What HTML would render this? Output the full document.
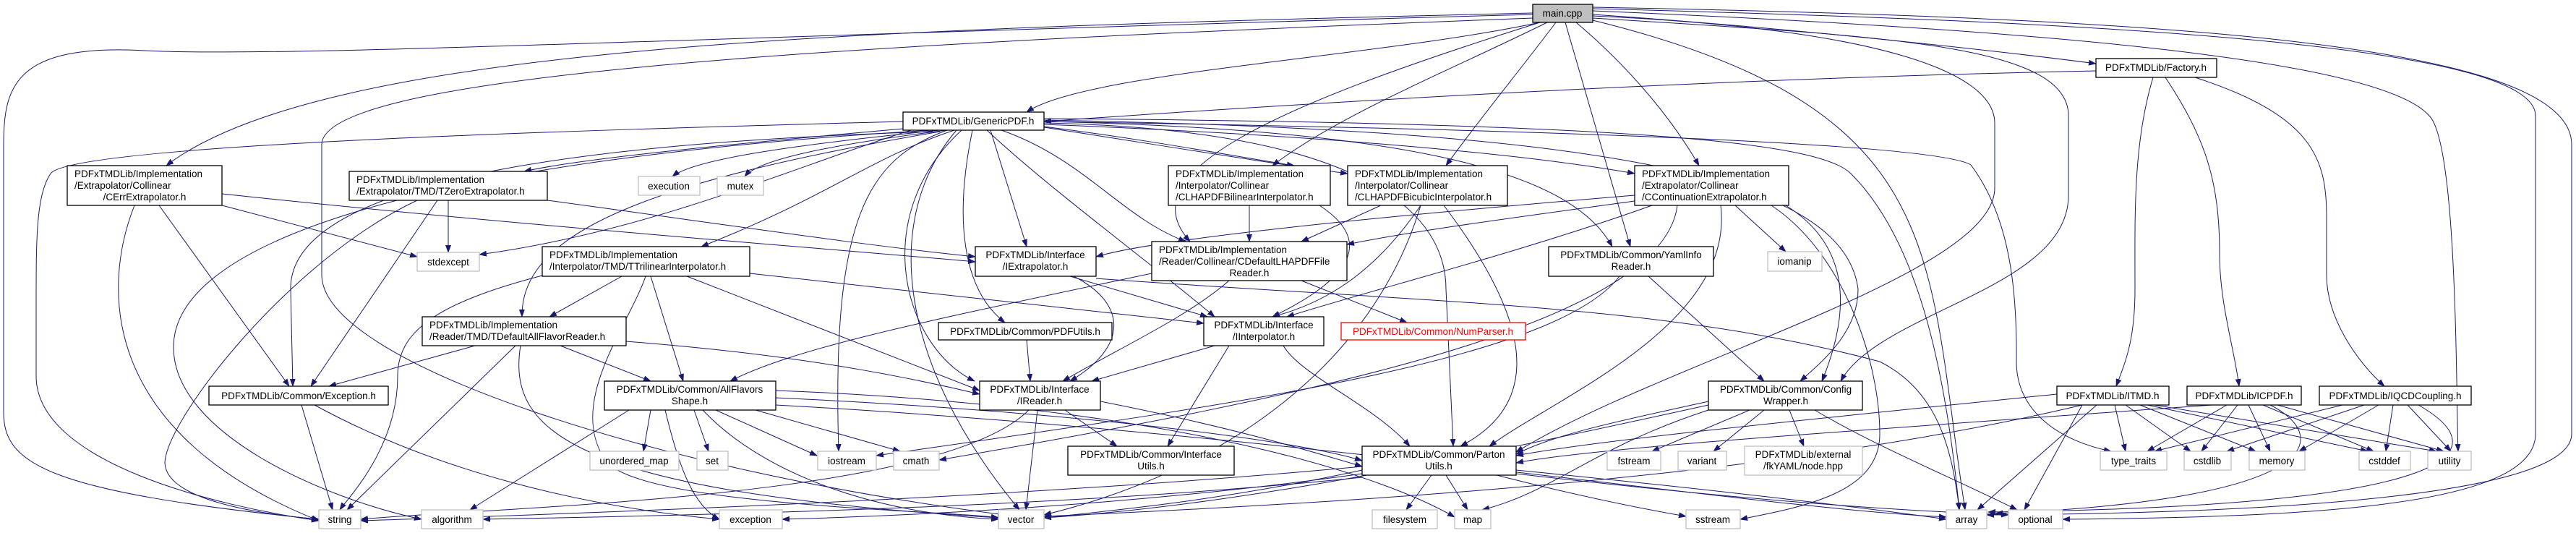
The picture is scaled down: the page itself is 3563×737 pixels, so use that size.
<!DOCTYPE html>
<html><head><meta charset="utf-8"><style>
html,body{margin:0;padding:0;background:#fff;}
svg{display:block;}
text{font-family:"Liberation Sans","DejaVu Sans",sans-serif;font-size:13.5px;fill:#000;}
.n{fill:#fff;stroke:#000;stroke-width:1.3;}
.g{fill:#fff;stroke:#bfbfbf;stroke-width:1.3;}
.e{fill:none;stroke:#191970;stroke-width:1;}
</style></head><body>
<svg width="3563" height="737" viewBox="0 0 3563 737" xmlns="http://www.w3.org/2000/svg">
<defs><marker id="a" markerWidth="11" markerHeight="8" refX="10" refY="4" orient="auto" markerUnits="userSpaceOnUse"><path d="M0,0 L11,4 L0,8 z" fill="#191970"/></marker></defs>
<g class="e" marker-end="url(#a)">
<!-- main -->
<path d="M2130,31 C1900,80 1500,100 1420,155"/>
<path d="M2203,20 C2500,40 2800,75 2899,88"/>
<path d="M2120,18 C1200,40 450,60 230,229"/>
<path d="M2120,20 C1000,50 400,80 200,70 C20,60 5,120 5,200 L5,570 C5,640 60,680 441,718"/>
<path d="M2120,25 C1200,60 445,100 445,200 L445,380 C445,500 900,650 1390,712"/>
<path d="M2140,31 C2000,100 1850,160 1760,229"/>
<path d="M2152,31 C2100,100 2050,160 2000,229"/>
<path d="M2180,31 C2250,90 2310,160 2350,229"/>
<path d="M2165,31 L2255,341"/>
<path d="M2130,31 C1750,150 1560,240 1646,334"/>
<path d="M2203,25 C2600,50 2861,60 2861,160 L2861,270 C2861,400 2600,430 2546,527"/>
<path d="M2203,22 C2600,40 2759,100 2759,170 L2759,260 C2759,380 2300,500 2097,625"/>
<path d="M2203,28 C2700,150 2663,350 2718,705"/>
<path d="M2203,15 C2800,40 3290,80 3360,160 C3400,200 3397,560 3400,624"/>
<path d="M2203,12 C2900,30 3507,60 3507,160 L3507,600 C3507,700 3200,715 2853,718"/>
<path d="M2203,10 C3000,25 3557,60 3557,200 L3557,600 C3557,690 3100,710 2748,712"/>
<!-- GenericPDF -->
<path d="M1300,180 C1100,200 960,220 930,244"/>
<path d="M1310,180 C1150,200 1050,220 1030,244"/>
<path d="M1260,180 C1100,230 900,320 663,352"/>
<path d="M1249,168 C800,180 100,200 70,240 C50,270 50,330 50,420 L50,520 C50,640 300,700 441,720"/>
<path d="M1290,180 C600,220 240,330 240,480 C240,600 450,690 583,718"/>
<path d="M1290,182 C700,200 400,270 402,400 L405,534"/>
<path d="M1249,178 C1000,200 800,220 725,237"/>
<path d="M1320,180 C1200,220 1150,270 970,341"/>
<path d="M1300,182 C900,250 720,320 722,438"/>
<path d="M1370,180 L1420,341"/>
<path d="M1345,180 C1320,300 1330,400 1390,446"/>
<path d="M1330,180 C1200,300 1250,480 1348,527"/>
<path d="M1323,180 C1220,300 1240,500 1410,705"/>
<path d="M1310,180 C1200,220 1150,300 1160,624"/>
<path d="M1365,180 C1450,260 1600,370 1680,438"/>
<path d="M1385,180 C1500,220 1550,300 1640,334"/>
<path d="M1444,175 C1600,195 1700,215 1790,229"/>
<path d="M1444,172 C1900,190 2150,220 2261,240"/>
<path d="M1444,176 C1600,200 1750,225 1864,240"/>
<path d="M1444,168 C2000,180 2180,250 2230,341"/>
<path d="M1444,166 C2200,180 2550,240 2570,400 C2570,460 2520,500 2490,527"/>
<path d="M1444,170 C1900,180 2000,300 2000,400 L2010,617"/>
<path d="M1444,164 C2300,170 2520,200 2560,240 C2650,330 2690,500 2710,705"/>
<path d="M1444,168 C2200,180 2680,200 2726,228 C2780,300 2790,400 2789,500 C2789,570 2850,610 2920,624"/>
<!-- Factory -->
<path d="M2899,98 C2300,110 1700,150 1444,168"/>
<path d="M2978,107 C2950,200 2953,300 2953,400 C2953,470 2940,500 2927,534"/>
<path d="M2995,107 C3050,190 3070,250 3070,350 C3070,420 3090,480 3097,534"/>
<path d="M3036,107 C3200,160 3218,220 3218,300 L3218,380 C3218,440 3260,500 3298,534"/>
<!-- ITMD ICPDF IQCD -->
<path d="M2925,560 L2940,624"/><path d="M2940,560 L3030,624"/><path d="M2960,560 L3120,624"/><path d="M2970,560 L3275,624"/><path d="M2980,560 L3370,624"/>
<path d="M2900,560 L2735,705"/><path d="M2880,560 L2800,705"/>
<path d="M2845,545 C2500,580 2200,610 2097,630"/>
<path d="M2880,560 C2500,650 2000,690 1444,714"/>
<path d="M3080,560 L2970,624"/><path d="M3095,560 L3045,624"/><path d="M3110,560 L3140,624"/><path d="M3130,560 L3283,624"/><path d="M3150,560 L3380,624"/>
<path d="M3140,560 C3220,600 3230,690 2760,710"/>
<path d="M3060,560 C2500,600 2200,620 2097,640"/>
<path d="M3240,560 L2980,624"/><path d="M3270,560 L3080,624"/><path d="M3290,560 L3180,624"/><path d="M3310,560 L3300,624"/><path d="M3330,560 L3390,624"/>
<path d="M3345,560 C3450,620 3430,700 2750,708"/>
<!-- CErr, TZero -->
<path d="M307,284 L577,355"/><path d="M220,284 L400,534"/>
<path d="M186,284 C140,400 140,600 441,720"/>
<path d="M307,268 C700,310 1100,340 1349,362"/>
<path d="M620,277 L620,349"/><path d="M605,277 L430,534"/>
<path d="M577,277 C400,360 230,580 228,640 C230,690 350,710 441,718"/>
<path d="M757,277 C1000,310 1200,340 1349,355"/>
<!-- TTri, TDefAll -->
<path d="M750,381 C600,420 550,460 550,520 C550,620 480,690 470,705"/>
<path d="M860,382 L760,438"/><path d="M900,382 L945,527"/><path d="M950,382 L1355,540"/><path d="M1037,378 L1665,447"/>
<path d="M893,382 C870,450 780,560 840,640 C900,700 1300,705 1381,716"/>
<path d="M657,478 L455,534"/><path d="M713,478 L480,705"/><path d="M775,478 L900,527"/>
<path d="M866,472 C1100,490 1250,520 1355,545"/>
<path d="M720,478 C700,600 800,680 1381,716"/>
<!-- Exception, AllFlav -->
<path d="M417,560 L460,705"/><path d="M435,560 C600,650 800,700 995,718"/>
<path d="M900,567 L890,624"/><path d="M960,567 L980,624"/><path d="M990,567 L1130,630"/><path d="M1045,567 L1245,624"/><path d="M870,567 L650,705"/>
<path d="M972,567 C1050,650 1200,710 1381,718"/>
<path d="M1073,540 C1600,560 1900,650 2012,715"/>
<path d="M1073,550 C1500,570 1800,610 1884,637"/>
<path d="M1073,560 C1800,600 2400,700 2692,715"/>
<path d="M920,567 C940,650 960,700 995,718"/>
<!-- IExtrap, IReader, CDefault -->
<path d="M1480,382 L1670,438"/><path d="M1485,382 C1560,420 1560,480 1480,527"/>
<path d="M1516,385 C2000,420 2300,420 2600,500 C2680,540 2700,620 2710,705"/>
<path d="M1473,567 L1545,617"/><path d="M1435,567 L1419,705"/>
<path d="M1423,567 C1300,690 700,700 499,718"/>
<path d="M1522,555 C1700,590 1800,620 1884,645"/>
<path d="M1700,388 C1640,440 1550,480 1470,527"/><path d="M1800,388 L1946,446"/>
<path d="M1593,378 C1300,440 1100,480 1010,527"/>
<!-- CBilin, CBicub, CCont, Yaml -->
<path d="M1728,284 L1728,334"/><path d="M1825,284 C1880,320 1900,370 1760,438"/>
<path d="M1910,284 L1800,334"/><path d="M1965,284 C1900,380 1830,420 1760,438"/>
<path d="M1997,284 C2100,420 2150,550 2020,617"/>
<path d="M1965,284 C1900,500 1700,650 1444,712"/>
<path d="M2261,270 C1900,300 1600,330 1516,355"/>
<path d="M2261,278 C2100,300 1950,320 1863,338"/>
<path d="M2285,284 C2100,350 1900,400 1780,438"/>
<path d="M2400,284 L2470,348"/>
<path d="M2470,284 C2560,340 2560,430 2520,527"/>
<path d="M2450,284 C2550,350 2600,500 2600,600 C2600,680 2500,700 2407,718"/>
<path d="M2380,284 C2400,450 2150,550 2060,617"/>
<path d="M2320,284 C2300,450 1800,550 1299,636"/>
<path d="M2280,382 L2440,527"/>
<path d="M2240,382 C2150,500 1700,560 1212,630"/>
<!-- IInterp, PDFUtils, Config, Parton -->
<path d="M1680,478 L1510,527"/><path d="M1700,478 L1615,617"/>
<path d="M1775,478 C1800,520 1900,560 1950,617"/>
<path d="M1420,470 L1425,527"/>
<path d="M2363,555 C2250,580 2150,600 2097,628"/>
<path d="M2420,567 L2285,624"/><path d="M2440,567 L2370,624"/><path d="M2475,567 L2495,617"/>
<path d="M2363,567 C2200,620 2150,680 2050,705"/>
<path d="M2510,567 C2600,620 2700,660 2790,705"/>
<path d="M2363,560 C2000,640 1700,700 1444,716"/>
<path d="M1980,657 L1945,705"/><path d="M2000,657 L2030,705"/>
<path d="M2070,657 C2200,690 2280,705 2332,714"/>
<path d="M2097,650 C2400,680 2600,705 2692,718"/>
<path d="M2097,655 C2400,690 2600,705 2778,712"/>
<path d="M1884,645 C1400,690 800,710 499,720"/>
<path d="M1884,650 C1700,690 1550,705 1444,716"/>
<path d="M1884,660 C1500,700 1000,712 668,718"/>
<path d="M1884,655 C1600,695 1300,712 1082,718"/>
</g>
<!-- nodes -->
<rect x="2120" y="6" width="83" height="25" fill="#bfbfbf" stroke="#000" stroke-width="1.3"/><text x="2161" y="23" text-anchor="middle">main.cpp</text>
<rect class="n" x="1249" y="155" width="195" height="25"/><text x="1346" y="172" text-anchor="middle">PDFxTMDLib/GenericPDF.h</text>
<rect class="n" x="2899" y="81" width="167" height="26"/><text x="2982" y="98" text-anchor="middle">PDFxTMDLib/Factory.h</text>
<rect class="n" x="93" y="229" width="214" height="55"/><text x="103" y="245">PDFxTMDLib/Implementation</text><text x="103" y="261">/Extrapolator/Collinear</text><text x="200" y="277" text-anchor="middle">/CErrExtrapolator.h</text>
<rect class="n" x="483" y="237" width="274" height="40"/><text x="493" y="253">PDFxTMDLib/Implementation</text><text x="493" y="269">/Extrapolator/TMD/TZeroExtrapolator.h</text>
<rect class="n" x="1616" y="229" width="224" height="55"/><text x="1626" y="245">PDFxTMDLib/Implementation</text><text x="1626" y="261">/Interpolator/Collinear</text><text x="1626" y="277">/CLHAPDFBilinearInterpolator.h</text>
<rect class="n" x="1864" y="229" width="221" height="55"/><text x="1874" y="245">PDFxTMDLib/Implementation</text><text x="1874" y="261">/Interpolator/Collinear</text><text x="1874" y="277">/CLHAPDFBicubicInterpolator.h</text>
<rect class="n" x="2261" y="229" width="213" height="55"/><text x="2271" y="245">PDFxTMDLib/Implementation</text><text x="2271" y="261">/Extrapolator/Collinear</text><text x="2271" y="277">/CContinuationExtrapolator.h</text>
<rect class="g" x="883" y="244" width="85" height="26"/><text x="925" y="262" text-anchor="middle">execution</text>
<rect class="g" x="992" y="244" width="64" height="26"/><text x="1024" y="262" text-anchor="middle">mutex</text>
<rect class="g" x="577" y="349" width="86" height="26"/><text x="620" y="367" text-anchor="middle">stdexcept</text>
<rect class="n" x="750" y="341" width="287" height="41"/><text x="760" y="357">PDFxTMDLib/Implementation</text><text x="760" y="373">/Interpolator/TMD/TTrilinearInterpolator.h</text>
<rect class="n" x="1349" y="341" width="167" height="41"/><text x="1432" y="357" text-anchor="middle">PDFxTMDLib/Interface</text><text x="1432" y="373" text-anchor="middle">/IExtrapolator.h</text>
<rect class="n" x="1593" y="334" width="270" height="54"/><text x="1603" y="350">PDFxTMDLib/Implementation</text><text x="1603" y="366">/Reader/Collinear/CDefaultLHAPDFFile</text><text x="1728" y="382" text-anchor="middle">Reader.h</text>
<rect class="n" x="2142" y="341" width="228" height="41"/><text x="2256" y="357" text-anchor="middle">PDFxTMDLib/Common/YamlInfo</text><text x="2256" y="373" text-anchor="middle">Reader.h</text>
<rect class="g" x="2445" y="348" width="75" height="27"/><text x="2482" y="366" text-anchor="middle">iomanip</text>
<rect class="n" x="584" y="438" width="282" height="40"/><text x="594" y="454">PDFxTMDLib/Implementation</text><text x="594" y="470">/Reader/TMD/TDefaultAllFlavorReader.h</text>
<rect class="n" x="1298" y="446" width="240" height="24"/><text x="1418" y="463" text-anchor="middle">PDFxTMDLib/Common/PDFUtils.h</text>
<rect class="n" x="1665" y="438" width="166" height="40"/><text x="1748" y="454" text-anchor="middle">PDFxTMDLib/Interface</text><text x="1748" y="470" text-anchor="middle">/IInterpolator.h</text>
<rect x="1855" y="446" width="255" height="24" fill="#fff" stroke="#ff0000" stroke-width="1.3"/><text x="1982" y="463" text-anchor="middle" style="fill:#ff0000">PDFxTMDLib/Common/NumParser.h</text>
<rect class="n" x="289" y="534" width="248" height="26"/><text x="413" y="552" text-anchor="middle">PDFxTMDLib/Common/Exception.h</text>
<rect class="n" x="836" y="527" width="237" height="40"/><text x="954" y="543" text-anchor="middle">PDFxTMDLib/Common/AllFlavors</text><text x="954" y="559" text-anchor="middle">Shape.h</text>
<rect class="n" x="1355" y="527" width="167" height="40"/><text x="1438" y="543" text-anchor="middle">PDFxTMDLib/Interface</text><text x="1438" y="559" text-anchor="middle">/IReader.h</text>
<rect class="n" x="2363" y="527" width="213" height="40"/><text x="2470" y="543" text-anchor="middle">PDFxTMDLib/Common/Config</text><text x="2470" y="559" text-anchor="middle">Wrapper.h</text>
<rect class="n" x="2845" y="534" width="155" height="26"/><text x="2922" y="552" text-anchor="middle">PDFxTMDLib/ITMD.h</text>
<rect class="n" x="3025" y="534" width="158" height="26"/><text x="3104" y="552" text-anchor="middle">PDFxTMDLib/ICPDF.h</text>
<rect class="n" x="3208" y="534" width="210" height="26"/><text x="3313" y="552" text-anchor="middle">PDFxTMDLib/IQCDCoupling.h</text>
<rect class="g" x="816" y="624" width="123" height="26"/><text x="877" y="642" text-anchor="middle">unordered_map</text>
<rect class="g" x="964" y="624" width="43" height="26"/><text x="985" y="642" text-anchor="middle">set</text>
<rect class="g" x="1131" y="624" width="81" height="26"/><text x="1171" y="642" text-anchor="middle">iostream</text>
<rect class="g" x="1236" y="624" width="63" height="26"/><text x="1267" y="642" text-anchor="middle">cmath</text>
<rect class="n" x="1477" y="617" width="230" height="40"/><text x="1592" y="633" text-anchor="middle">PDFxTMDLib/Common/Interface</text><text x="1592" y="649" text-anchor="middle">Utils.h</text>
<rect class="n" x="1884" y="617" width="213" height="40"/><text x="1990" y="633" text-anchor="middle">PDFxTMDLib/Common/Parton</text><text x="1990" y="649" text-anchor="middle">Utils.h</text>
<rect class="g" x="2223" y="624" width="74" height="26"/><text x="2260" y="642" text-anchor="middle">fstream</text>
<rect class="g" x="2321" y="624" width="67" height="26"/><text x="2354" y="642" text-anchor="middle">variant</text>
<rect class="g" x="2413" y="617" width="163" height="40"/><text x="2494" y="633" text-anchor="middle">PDFxTMDLib/external</text><text x="2494" y="649" text-anchor="middle">/fkYAML/node.hpp</text>
<rect class="g" x="2905" y="624" width="92" height="26"/><text x="2951" y="642" text-anchor="middle">type_traits</text>
<rect class="g" x="3021" y="624" width="65" height="26"/><text x="3053" y="642" text-anchor="middle">cstdlib</text>
<rect class="g" x="3111" y="624" width="77" height="26"/><text x="3149" y="642" text-anchor="middle">memory</text>
<rect class="g" x="3263" y="624" width="71" height="26"/><text x="3298" y="642" text-anchor="middle">cstddef</text>
<rect class="g" x="3358" y="624" width="60" height="26"/><text x="3388" y="642" text-anchor="middle">utility</text>
<rect class="g" x="441" y="705" width="58" height="26"/><text x="470" y="723" text-anchor="middle">string</text>
<rect class="g" x="583" y="705" width="85" height="26"/><text x="625" y="723" text-anchor="middle">algorithm</text>
<rect class="g" x="995" y="705" width="87" height="26"/><text x="1038" y="723" text-anchor="middle">exception</text>
<rect class="g" x="1381" y="705" width="63" height="26"/><text x="1412" y="723" text-anchor="middle">vector</text>
<rect class="g" x="1898" y="705" width="90" height="26"/><text x="1943" y="723" text-anchor="middle">filesystem</text>
<rect class="g" x="2012" y="705" width="50" height="26"/><text x="2037" y="723" text-anchor="middle">map</text>
<rect class="g" x="2332" y="705" width="75" height="26"/><text x="2369" y="723" text-anchor="middle">sstream</text>
<rect class="g" x="2692" y="705" width="56" height="26"/><text x="2720" y="723" text-anchor="middle">array</text>
<rect class="g" x="2778" y="705" width="75" height="26"/><text x="2815" y="723" text-anchor="middle">optional</text>
</svg>
</body></html>
